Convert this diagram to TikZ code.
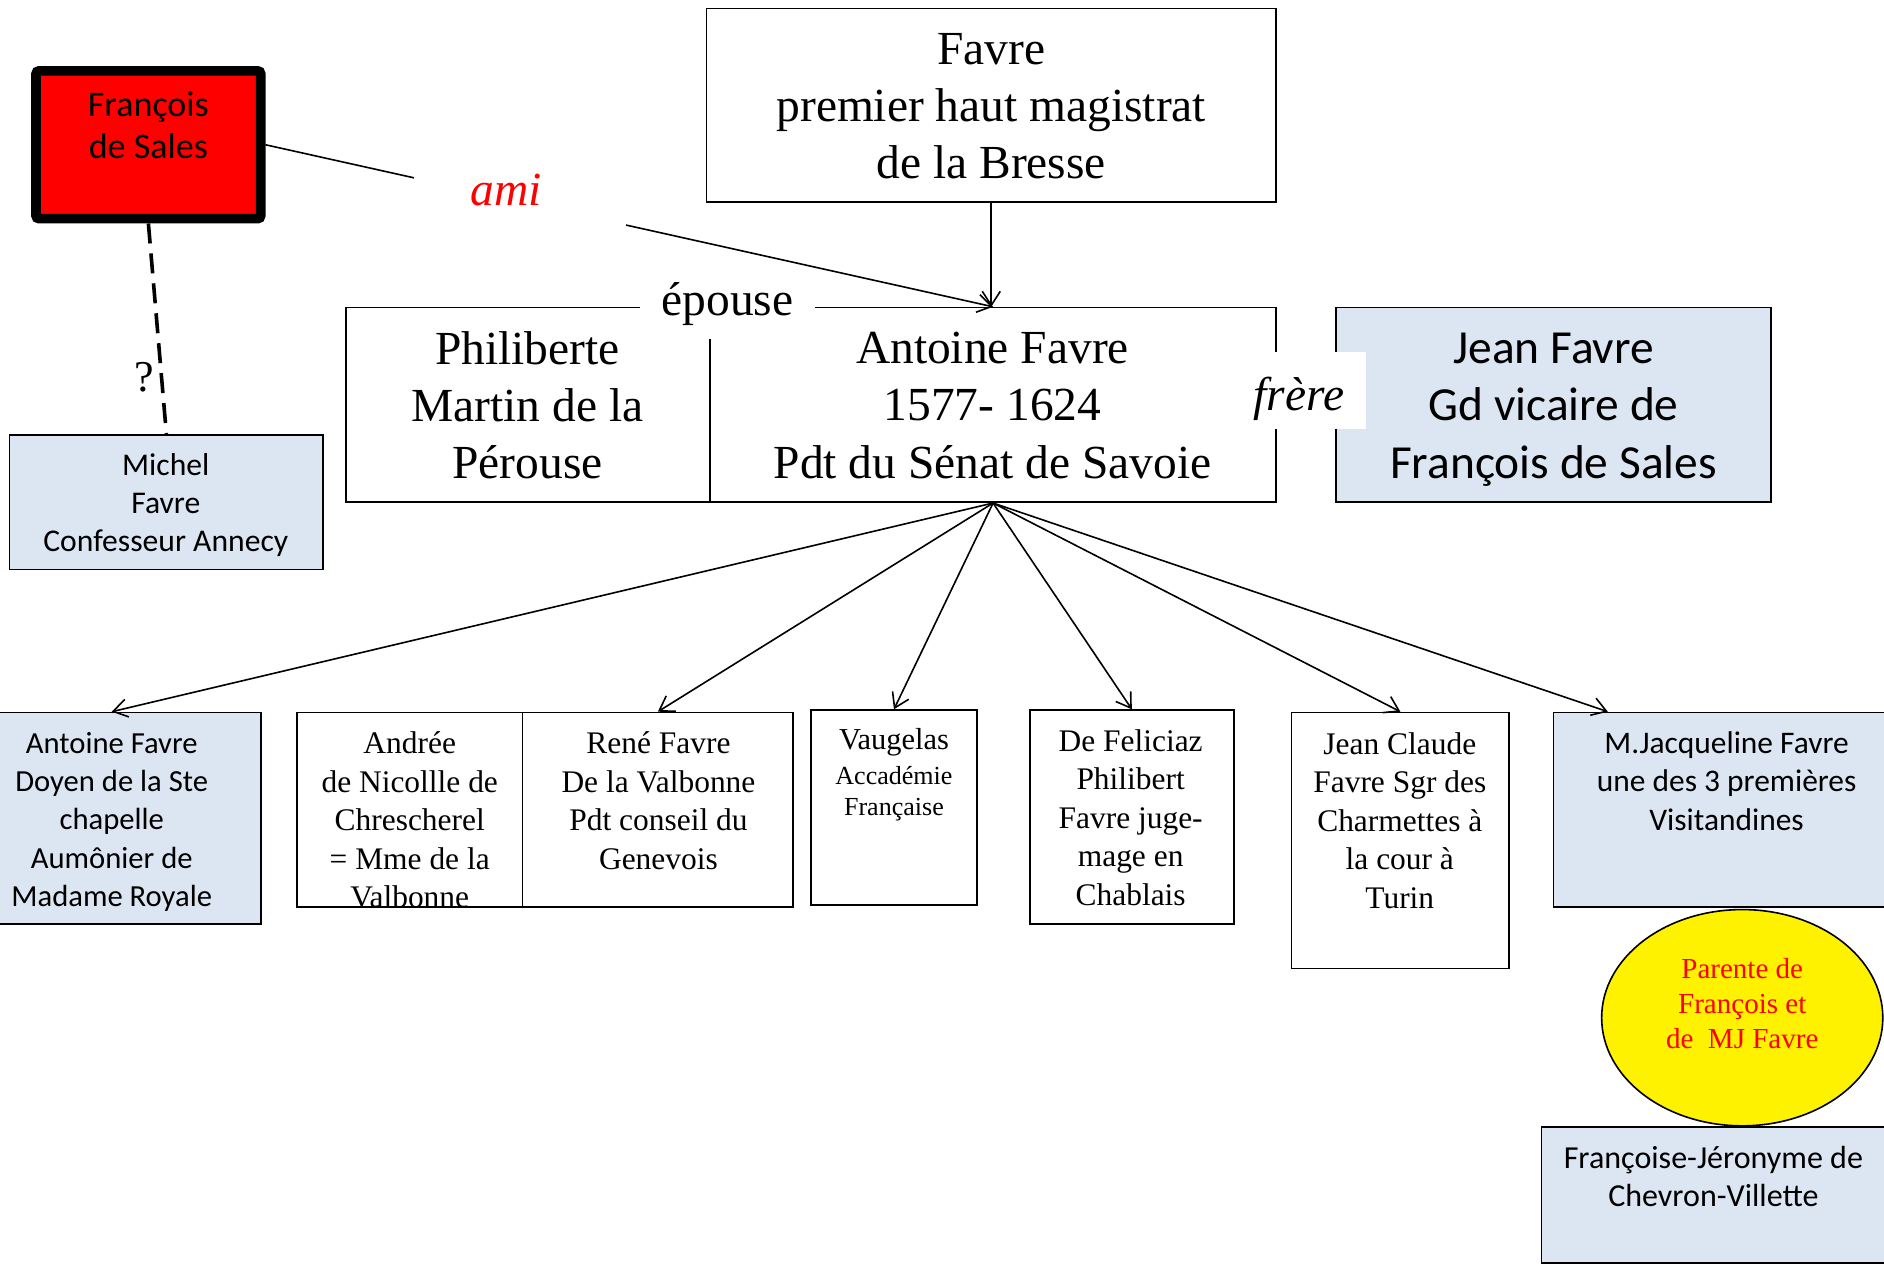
\documentclass[tikz,border=0pt]{standalone}
\usepackage{fontspec}
\setmainfont{Liberation Serif}
\newfontfamily\calibri{Carlito}
\usetikzlibrary{arrows.meta,fit,shapes.geometric}
\definecolor{paleblue}{RGB}{220,230,242}

\tikzset{
  box/.style={draw, line width=0.8pt, inner sep=0pt},
  bluebox/.style={box, fill=paleblue},
  bigserif/.style={align=center, inner sep=0pt, font=\fontsize{23.7}{28.5}\selectfont},
  bigsans/.style={align=center, inner sep=0pt, font=\calibri\fontsize{23.7}{28.8}\selectfont},
  smallserif/.style={align=center, inner sep=0pt, font=\fontsize{15.7}{19.2}\selectfont},
  smallsans/.style={align=center, inner sep=0pt, font=\calibri\fontsize{15.3}{19.2}\selectfont},
  relation/.style={fill=white, inner sep=0pt, font=\fontsize{23.7}{28}\selectfont},
}

\begin{document}
\begin{tikzpicture}[x=0.6pt, y=-0.6pt, line width=0.8pt,
  >={Straight Barb[length=7pt,width=9pt]}]
\useasboundingbox (0,0) rectangle (1568,1054);

% boxes
\node[box, fit={(588,7) (1062,168)}] (magistrat) {};
\node[box, fit={(288,256) (591,418)}] (philiberte) {};
\node[box, fit={(591,256) (1062,418)}] (antoine) {};
\node[bluebox, fit={(1112,256) (1474,418)}] (jean) {};
\node[bluebox, fit={(8,362) (269,474)}] (michel) {};
\node[box, fit={(30,59) (217,182)}, fill=red, line width=4.8pt, rounded corners=1.5pt] (sales) {};
\node[bluebox, fit={(-31,593) (217,769)}] (doyen) {};
\node[box, fit={(247,593) (435,755)}] (andree) {};
\node[box, fit={(435,593) (660,755)}] (rene) {};
\node[box, fit={(675,591) (813,753)}] (vaugelas) {};
\node[box, fit={(857,591) (1027,769)}] (feliciaz) {};
\node[box, fit={(1075,593) (1256,806)}] (jeanclaude) {};
\node[bluebox, fit={(1293,593) (1585,755)}] (jacqueline) {};
\node[draw, ellipse, fill=yellow, minimum width=140.4pt, minimum height=108pt, inner sep=0pt] (parente) at (1450,847) {};
\node[bluebox, fit={(1283,938) (1585,1051)}] (francoise) {};

% texts
\node[bigserif] (magistrat-txt) at (825,88.5) {Favre\\premier haut magistrat\\de la Bresse};
\node[bigserif] (philiberte-txt) at (439,337.5) {Philiberte\\Martin de la\\Pérouse};
\node[bigserif] (antoine-txt) at (826,337.5) {Antoine Favre\\1577- 1624\\Pdt du Sénat de Savoie};
\node[bigsans] (jean-txt) at (1293,341) {Jean Favre\\Gd vicaire de\\François de Sales};
\node[smallsans, font=\calibri\fontsize{15.8}{19}\selectfont] (michel-txt) at (138,420) {Michel\\Favre\\Confesseur Annecy};
\node[smallsans, font=\calibri\fontsize{18}{21}\selectfont] (sales-txt) at (123.5,104) {François\\de Sales};
\node[smallsans] (doyen-txt) at (93,684) {Antoine Favre\\Doyen de la Ste\\chapelle\\Aumônier de\\Madame Royale};
\node[smallserif] (andree-txt) at (341,682.5) {Andrée\\de Nicollle de\\Chrescherel\\= Mme de la\\Valbonne};
\node[smallserif] (rene-txt) at (548,666.5) {René Favre\\De la Valbonne\\Pdt conseil du\\Genevois};
\node[smallserif, font=\fontsize{13}{15.6}\selectfont] (vaugelas-txt) at (744,645)
  {{\fontsize{15.2}{17.4}\selectfont Vaugelas}\\[1.8pt]Accadémie\\Française};
\node[smallserif] (feliciaz-txt) at (941,680.5) {De Feliciaz\\Philibert\\Favre juge-\\mage en\\Chablais};
\node[smallserif] (jeanclaude-txt) at (1165,683) {Jean Claude\\Favre Sgr des\\Charmettes à\\la cour à\\Turin};
\node[smallsans, font=\calibri\fontsize{15.7}{19.2}\selectfont] (jacqueline-txt) at (1437,650) {M.Jacqueline Favre\\une des 3 premières\\Visitandines};
\node[smallserif, text=red, font=\fontsize{14.5}{17.4}\selectfont] (parente-txt) at (1450,835.5) {Parente de\\François et\\de~~MJ Favre};
\node[smallsans, font=\calibri\fontsize{16}{19.2}\selectfont] (francoise-txt) at (1426,979) {Françoise-Jéronyme de\\Chevron-Villette};

% connectors
\draw[->] (magistrat.south) -- (magistrat.south |- antoine.north);
\draw[->] (sales.east) -- node[relation, pos=0.35, text=red, font=\itshape\fontsize{23.7}{28}\selectfont,
  minimum width=106pt, minimum height=30pt, text height=13pt, text depth=9.4pt] (ami) {ami\hspace*{14pt}} (antoine.north);
\draw[line width=1.8pt, dash pattern=on 10pt off 5pt] (sales.south) -- node[pos=0.73, left=3pt, inner sep=0pt, font=\fontsize{22}{24}\selectfont] (doute) {?} (michel.north);
\foreach \kid in {doyen, rene, vaugelas, feliciaz, jeanclaude}
  \draw[->] (antoine.south) -- (\kid.north);
\draw[->] (antoine.south) -- (jacqueline.141);

% relation labels
\node[relation, minimum width=87pt, minimum height=32.4pt, text height=16pt, text depth=6.4pt] (epouse) at (605.5,255) {épouse};
\node[relation, font=\itshape\fontsize{23.7}{28}\selectfont, minimum width=67.2pt, minimum height=38.4pt,
  text height=21pt, text depth=0.6pt] (frere) at (1081,325) {frère};
\end{tikzpicture}
\end{document}
